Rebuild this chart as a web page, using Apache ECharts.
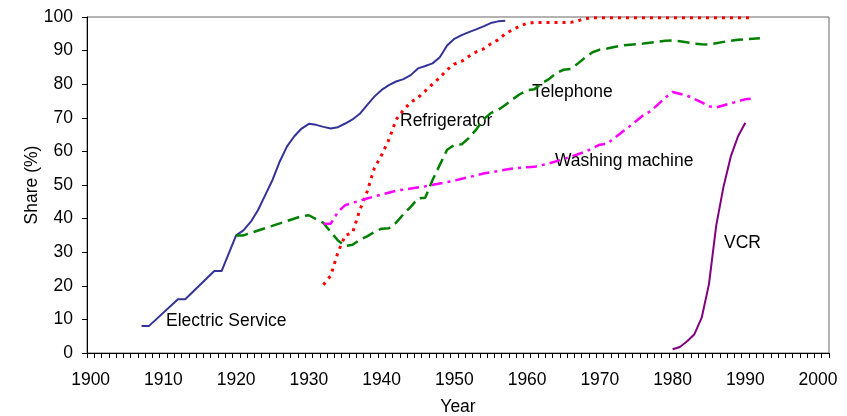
<!DOCTYPE html>
<html>
<head>
<meta charset="utf-8">
<title>Share of households</title>
<script src="https://cdn.jsdelivr.net/npm/echarts@6/dist/echarts.min.js"></script>
<style>
  html, body { margin: 0; padding: 0; background: #fff; }
  #chart { width: 847px; height: 416px; }
</style>
</head>
<body>
<div id="chart"></div>
<script>
// [year, share %]
var electric = [[1907,8],[1908,8],[1912,16],[1913,16],[1917,24.4],[1918,24.4],[1920,35],[1921,36.5],
  [1922,39],[1923,42.5],[1924,47],[1925,51.5],[1926,57],[1927,61.5],[1928,64.5],[1929,66.8],[1930,68.2],
  [1931,67.9],[1932,67.3],[1933,66.8],[1934,67.2],[1935,68.3],[1936,69.5],[1937,71.2],[1938,73.8],
  [1939,76.3],[1940,78.3],[1941,79.7],[1942,80.8],[1943,81.5],[1944,82.7],[1945,84.7],[1946,85.4],
  [1947,86.2],[1948,88],[1949,91.5],[1950,93.5],[1951,94.6],[1952,95.5],[1953,96.3],[1954,97.2],
  [1955,98.2],[1956,98.7],[1957,98.9]];
var refrigerator = [[1932,20.3],[1933,23],[1934,30],[1935,35],[1936,35.8],[1937,42.5],[1938,48],
  [1939,55],[1940,58.9],[1941,63.5],[1942,69.5],[1943,72.3],[1944,74.6],[1945,76],[1946,78],[1947,80],
  [1948,82],[1949,84.3],[1950,86],[1951,86.8],[1952,88.3],[1953,89.6],[1954,90.5],[1955,92],[1956,93.2],
  [1957,95],[1958,96.2],[1959,97.3],[1960,98.1],[1961,98.4],[1966,98.4],[1967,98.9],[1968,99.5],
  [1969,99.8],[1991,99.8]];
var telephone = [[1920,35],[1921,35],[1929,40.7],[1930,41],[1932,38.7],[1933,36],[1934,33.5],[1935,31.8],
  [1936,32.2],[1937,33.7],[1938,34.7],[1939,36],[1940,37],[1941,37.1],[1942,38.8],[1943,41.3],[1944,43.5],
  [1945,46],[1946,46.2],[1947,51.5],[1948,56],[1949,60.5],[1950,61.9],[1951,62.1],[1952,64],[1953,66.5],
  [1954,69.5],[1955,71.4],[1956,72.3],[1957,73.8],[1958,75.5],[1959,77],[1960,78.2],[1961,78.5],
  [1962,80.3],[1963,81.5],[1964,83.3],[1965,84.3],[1966,84.5],[1967,86.2],[1968,88],[1969,89.5],
  [1970,90.3],[1971,90.6],[1973,91.5],[1976,92.1],[1979,92.9],[1980,93],[1981,92.8],[1983,92.1],
  [1984,91.9],[1985,91.8],[1986,92.2],[1987,92.6],[1989,93.2],[1992,93.7]];
var washing = [[1932,38.5],[1933,38.5],[1934,42],[1935,44],[1938,46],[1942,48.3],[1946,49.6],[1950,51.3],
  [1954,53.4],[1958,54.9],[1960,55.3],[1961,55.4],[1963,56.4],[1965,57.7],[1968,59.9],[1970,62],
  [1971,62.3],[1972,64],[1974,67.3],[1976,70.8],[1977,72],[1979,76],[1980,77.7],[1982,76.6],[1984,74.6],
  [1985,73.4],[1986,73.1],[1988,74.3],[1990,75.5],[1991,75.7]];
var vcr = [[1980,1.1],[1981,1.8],[1982,3.5],[1983,5.6],[1984,10.5],[1985,20.5],[1986,38],[1987,49.5],
  [1988,58.5],[1989,64.5],[1990,68.5]];

var yearLabels = [1900,1910,1920,1930,1940,1950,1960,1970,1980,1990,2000];
// one tick between each year
var yearTicks = [];
for (var t = 1899.5; t <= 2001.5; t += 1) yearTicks.push(t);

var FONT = 'Liberation Sans, Arial, sans-serif';
var FS = 17.5;

var chart = echarts.init(document.getElementById('chart'));

function line(name, data, color, type, width) {
  return {
    name: name, type: 'line', data: data, symbol: 'none', animation: false,
    lineStyle: { color: color, width: width, type: type, cap: 'butt' }
  };
}

function note(text, left, top) {
  return { type: 'text', left: left, top: top,
    style: { text: text, font: FS + 'px ' + FONT, fill: '#000' } };
}

chart.setOption({
  animation: false,
  grid: { left: 87, right: 18, top: 17, bottom: 63, containLabel: false, outerBoundsMode: 'none',
    show: true, borderColor: '#666', borderWidth: 1 },
  xAxis: {
    type: 'value', min: 1899.5, max: 2001.5,
    name: 'Year', nameLocation: 'middle', nameGap: 45, nameMoveOverlap: false,
    nameTextStyle: { fontFamily: FONT, fontSize: FS, color: '#000' },
    splitLine: { show: false },
    axisLine: { lineStyle: { color: '#000', width: 1 } },
    axisTick: { show: true, length: 5, customValues: yearTicks, lineStyle: { color: '#000' } },
    axisLabel: { customValues: yearLabels, margin: 18, fontFamily: FONT, fontSize: FS, color: '#000',
      formatter: function (v) { return String(v); } }
  },
  yAxis: {
    type: 'value', min: 0, max: 100, interval: 10,
    name: 'Share (%)', nameLocation: 'middle', nameGap: 46, nameRotate: 90, nameMoveOverlap: false,
    nameTextStyle: { fontFamily: FONT, fontSize: FS, color: '#000' },
    splitLine: { show: false },
    axisLine: { show: true, lineStyle: { color: '#000', width: 1 } },
    axisTick: { show: true, length: 5, lineStyle: { color: '#000' } },
    axisLabel: { margin: 14, fontFamily: FONT, fontSize: FS, color: '#000' }
  },
  series: [
    line('Electric Service', electric, '#333399', 'solid', 2),
    line('Refrigerator', refrigerator, '#ff0000', [3, 5], 3),
    line('Telephone', telephone, '#008000', [12, 6], 2.5),
    line('Washing machine', washing, '#ff00ff', [11, 5, 3, 5], 2.5),
    line('VCR', vcr, '#800080', 'solid', 2)
  ],
  graphic: [
    note('Electric Service', 166, 312),
    note('Refrigerator', 400, 112),
    note('Telephone', 532, 83),
    note('Washing machine', 555, 152),
    note('VCR', 724, 234)
  ]
});
</script>
</body>
</html>
